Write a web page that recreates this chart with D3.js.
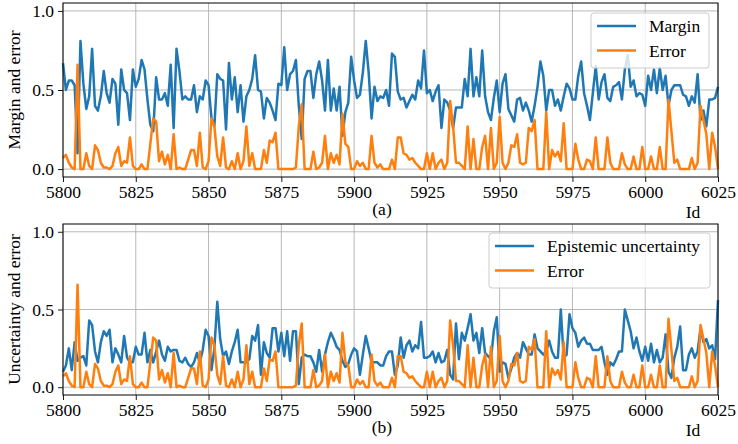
<!DOCTYPE html>
<html>
<head>
<meta charset="utf-8">
<script src="https://cdn.jsdelivr.net/npm/d3@7"></script>
<style>
  body { margin: 0; background: #fff; }
  .grid line { stroke: #b0b0b0; stroke-width: 0.9; }
  .axis path { display: none; }
  .axis line { stroke: #000; stroke-width: 0.9; }
  .frame { fill: none; stroke: #000; stroke-width: 1; }
  .series { fill: none; stroke-width: 2.5; stroke-linejoin: round; }
</style>
</head>
<body>
<div id="chart"></div>
<script>
// ids along x
var startId = 5800, endId = 6025;
var xTicks = [5800, 5825, 5850, 5875, 5900, 5925, 5950, 5975, 6000, 6025];
var yTicks = [0.0, 0.5, 1.0];

// margin (top panel, blue)
var margin_vals = [
  0.67, 0.50, 0.56, 0.56, 0.53, 0.10, 0.81, 0.54, 0.38, 0.46,
  0.76, 0.40, 0.37, 0.46, 0.62, 0.48, 0.42, 0.57, 0.54, 0.28,
  0.63, 0.50, 0.48, 0.31, 0.63, 0.52, 0.57, 0.69, 0.63, 0.44,
  0.28, 0.24, 0.58, 0.44, 0.44, 0.48, 0.40, 0.66, 0.26, 0.76,
  0.62, 0.44, 0.46, 0.44, 0.44, 0.53, 0.36, 0.46, 0.44, 0.56,
  0.53, 0.32, 0.27, 0.60, 0.57, 0.56, 0.25, 0.67, 0.44, 0.58,
  0.36, 0.53, 0.30, 0.46, 0.50, 0.57, 0.72, 0.50, 0.49, 0.32,
  0.45, 0.42, 0.37, 0.31, 0.54, 0.53, 0.77, 0.50, 0.60, 0.62,
  0.69, 0.40, 0.19, 0.57, 0.62, 0.62, 0.45, 0.60, 0.68, 0.56,
  0.37, 0.69, 0.37, 0.51, 0.37, 0.52, 0.21, 0.36, 0.42, 0.71,
  0.56, 0.45, 0.47, 0.61, 0.81, 0.61, 0.32, 0.52, 0.43, 0.46,
  0.45, 0.50, 0.40, 0.73, 0.71, 0.49, 0.44, 0.45, 0.39, 0.43,
  0.47, 0.44, 0.56, 0.51, 0.75, 0.48, 0.50, 0.43, 0.49, 0.53,
  0.26, 0.44, 0.42, 0.37, 0.26, 0.39, 0.39, 0.39, 0.57, 0.46,
  0.76, 0.46, 0.58, 0.46, 0.75, 0.46, 0.36, 0.31, 0.45, 0.56,
  0.36, 0.54, 0.60, 0.38, 0.34, 0.30, 0.44, 0.45, 0.37, 0.42,
  0.37, 0.30, 0.40, 0.52, 0.68, 0.59, 0.37, 0.50, 0.50, 0.40,
  0.44, 0.37, 0.46, 0.54, 0.51, 0.44, 0.44, 0.59, 0.68, 0.48,
  0.40, 0.31, 0.48, 0.65, 0.44, 0.55, 0.60, 0.45, 0.43, 0.52,
  0.53, 0.55, 0.44, 0.63, 0.72, 0.52, 0.56, 0.46, 0.48, 0.47,
  0.40, 0.59, 0.50, 0.63, 0.48, 0.64, 0.50, 0.59, 0.40, 0.50,
  0.53, 0.53, 0.53, 0.47, 0.46, 0.40, 0.46, 0.42, 0.60, 0.31,
  0.37, 0.27, 0.44, 0.44, 0.45, 0.52
];

// error (both panels, orange)
var error_vals = [
  0.07, 0.09, 0.04, 0.01, 0.00, 0.66, 0.00, 0.00, 0.10, 0.02,
  0.00, 0.15, 0.12, 0.04, 0.01, 0.01, 0.00, 0.02, 0.10, 0.14,
  0.02, 0.05, 0.04, 0.20, 0.02, 0.00, 0.00, 0.03, 0.00, 0.00,
  0.16, 0.32, 0.30, 0.05, 0.11, 0.03, 0.09, 0.00, 0.22, 0.00,
  0.01, 0.00, 0.00, 0.06, 0.12, 0.12, 0.02, 0.23, 0.01, 0.00,
  0.05, 0.32, 0.27, 0.08, 0.02, 0.20, 0.01, 0.00, 0.05, 0.00,
  0.10, 0.00, 0.05, 0.27, 0.02, 0.10, 0.00, 0.00, 0.00, 0.12,
  0.04, 0.18, 0.17, 0.23, 0.00, 0.00, 0.00, 0.00, 0.00, 0.00,
  0.01, 0.27, 0.41, 0.00, 0.00, 0.00, 0.11, 0.00, 0.01, 0.04,
  0.21, 0.00, 0.10, 0.04, 0.09, 0.03, 0.35, 0.16, 0.14, 0.00,
  0.00, 0.05, 0.02, 0.04, 0.00, 0.00, 0.21, 0.04, 0.01, 0.03,
  0.00, 0.00, 0.00, 0.06, 0.00, 0.20, 0.20, 0.10, 0.09, 0.06,
  0.07, 0.04, 0.02, 0.00, 0.00, 0.10, 0.00, 0.10, 0.00, 0.04,
  0.06, 0.00, 0.04, 0.43, 0.27, 0.04, 0.04, 0.02, 0.00, 0.27,
  0.00, 0.19, 0.00, 0.00, 0.14, 0.21, 0.00, 0.26, 0.00, 0.04,
  0.33, 0.04, 0.00, 0.04, 0.15, 0.14, 0.22, 0.04, 0.03, 0.04,
  0.26, 0.24, 0.31, 0.00, 0.00, 0.00, 0.36, 0.00, 0.12, 0.08,
  0.11, 0.05, 0.29, 0.00, 0.00, 0.00, 0.16, 0.06, 0.00, 0.00,
  0.06, 0.05, 0.00, 0.20, 0.00, 0.00, 0.00, 0.20, 0.04, 0.00,
  0.00, 0.00, 0.10, 0.03, 0.00, 0.00, 0.08, 0.00, 0.00, 0.14,
  0.00, 0.00, 0.08, 0.00, 0.00, 0.14, 0.00, 0.00, 0.44, 0.24,
  0.04, 0.06, 0.00, 0.00, 0.00, 0.00, 0.07, 0.00, 0.04, 0.40,
  0.31, 0.22, 0.00, 0.23, 0.14, 0.00
];

// epistemic uncertainty (bottom panel, blue)
var uncert_vals = [
  0.10, 0.14, 0.25, 0.11, 0.29, 0.17, 0.19, 0.20, 0.14, 0.43,
  0.40, 0.23, 0.16, 0.29, 0.36, 0.33, 0.37, 0.16, 0.25, 0.21,
  0.16, 0.33, 0.19, 0.16, 0.16, 0.26, 0.21, 0.21, 0.35, 0.16,
  0.24, 0.16, 0.23, 0.30, 0.21, 0.17, 0.26, 0.23, 0.24, 0.24,
  0.17, 0.16, 0.19, 0.15, 0.13, 0.16, 0.22, 0.16, 0.24, 0.37,
  0.33, 0.11, 0.25, 0.55, 0.31, 0.20, 0.23, 0.15, 0.23, 0.29,
  0.37, 0.16, 0.16, 0.16, 0.18, 0.33, 0.30, 0.40, 0.08, 0.29,
  0.22, 0.19, 0.38, 0.38, 0.23, 0.35, 0.20, 0.36, 0.17, 0.36,
  0.36, 0.02, 0.19, 0.21, 0.20, 0.20, 0.16, 0.10, 0.24, 0.10,
  0.21, 0.29, 0.35, 0.31, 0.26, 0.24, 0.17, 0.13, 0.15, 0.21,
  0.25, 0.23, 0.08, 0.21, 0.33, 0.25, 0.16, 0.16, 0.16, 0.14,
  0.14, 0.20, 0.23, 0.23, 0.08, 0.14, 0.32, 0.19, 0.27, 0.30,
  0.23, 0.27, 0.25, 0.42, 0.19, 0.19, 0.20, 0.23, 0.16, 0.22,
  0.16, 0.17, 0.24, 0.08, 0.05, 0.41, 0.18, 0.35, 0.30, 0.38,
  0.47, 0.30, 0.35, 0.22, 0.38, 0.22, 0.20, 0.18, 0.36, 0.45,
  0.10, 0.16, 0.15, 0.06, 0.12, 0.19, 0.22, 0.19, 0.29, 0.25,
  0.21, 0.21, 0.34, 0.25, 0.23, 0.21, 0.23, 0.30, 0.23, 0.19,
  0.19, 0.50, 0.19, 0.21, 0.47, 0.38, 0.35, 0.26, 0.30, 0.32,
  0.28, 0.28, 0.24, 0.24, 0.24, 0.26, 0.16, 0.08, 0.16, 0.14,
  0.18, 0.23, 0.23, 0.50, 0.43, 0.36, 0.25, 0.32, 0.23, 0.17,
  0.26, 0.17, 0.28, 0.16, 0.24, 0.16, 0.19, 0.34, 0.10, 0.06,
  0.19, 0.26, 0.39, 0.11, 0.11, 0.21, 0.25, 0.19, 0.23, 0.38,
  0.29, 0.31, 0.25, 0.27, 0.18, 0.56
];

var blue = "#1f77b4", orange = "#ff7f0e";
var serif = "'Liberation Serif'", fontSize = "17.5px";

var svg = d3.select("#chart")
  .append("svg")
  .attr("width", 738)
  .attr("height", 444);

var x = d3.scaleLinear()
  .domain([startId, endId])
  .range([63, 718]);

// put a serif label on the svg
function label(g, txt, px, py, anchor){
  return g.append("text")
    .attr("x", px).attr("y", py)
    .attr("text-anchor", anchor || "start")
    .style("font-family", serif)
    .style("font-size", fontSize)
    .style("fill", "#000")
    .text(txt);
}

// one panel: top/bottom pixel rows of the frame, labels, two series
function drawPanel(p){
  var y = d3.scaleLinear()
    .domain([-0.05, 1.05])
    .range([p.bottom, p.top]);

  var g = svg.append("g");

  // grid
  var grid = g.append("g").attr("class", "grid");
  grid.selectAll(".gx").data(xTicks).enter().append("line")
    .attr("x1", d => x(d)).attr("x2", d => x(d))
    .attr("y1", p.top).attr("y2", p.bottom);
  grid.selectAll(".gy").data(yTicks).enter().append("line")
    .attr("x1", x.range()[0]).attr("x2", x.range()[1])
    .attr("y1", d => y(d)).attr("y2", d => y(d));

  // series
  var line = d3.line()
    .x((d, i) => x(startId + i))
    .y(d => y(d));
  g.append("path").datum(p.blueVals)
    .attr("class", "series")
    .attr("stroke", blue)
    .attr("d", line);
  g.append("path").datum(error_vals)
    .attr("class", "series")
    .attr("stroke", orange)
    .attr("d", line);

  // axes
  var xa = g.append("g")
    .attr("class", "axis")
    .attr("transform", "translate(0," + p.bottom + ")")
    .call(d3.axisBottom(x).tickValues(xTicks).tickSize(5).tickPadding(4).tickFormat(d3.format("d")));
  var ya = g.append("g")
    .attr("class", "axis")
    .attr("transform", "translate(" + x.range()[0] + ",0)")
    .call(d3.axisLeft(y).tickValues(yTicks).tickSize(5).tickPadding(4).tickFormat(d3.format(".1f")));
  [xa, ya].forEach(function(a){
    a.attr("font-family", null).attr("font-size", null);
    a.selectAll("text")
      .style("font-family", serif)
      .style("font-size", fontSize)
      .attr("fill", "#000");
  });

  g.append("rect")
    .attr("class", "frame")
    .attr("x", x.range()[0])
    .attr("y", p.top)
    .attr("width", x.range()[1] - x.range()[0])
    .attr("height", p.bottom - p.top);

  // y label
  label(g, p.ylabel, 0, 0, "middle")
    .attr("transform", "translate(20," + ((p.top + p.bottom) / 2) + ") rotate(-90)");

  // panel caption and x label
  label(g, p.caption, 382, p.bottom + 38, "middle");
  label(g, "Id", 693, p.bottom + 41, "middle");

  // legend
  var lg = g.append("g").attr("transform", "translate(" + p.legend.x + "," + p.legend.y + ")");
  lg.append("rect")
    .attr("width", p.legend.w).attr("height", 55)
    .attr("rx", 3)
    .attr("fill", "#fff").attr("fill-opacity", 0.8)
    .attr("stroke", "#cccccc").attr("stroke-width", 1);
  var items = [[p.blueName, blue], ["Error", orange]];
  items.forEach(function(it, k){
    var yy = 13 + k * 24.5;
    lg.append("line")
      .attr("x1", 6).attr("x2", 45)
      .attr("y1", yy).attr("y2", yy)
      .attr("stroke", it[1]).attr("stroke-width", 2.5);
    label(lg, it[0], 58, yy + 6);
  });
}

drawPanel({top: 3, bottom: 177, blueVals: margin_vals, blueName: "Margin",
  ylabel: "Margin and error", caption: "(a)", legend: {x: 591, y: 13, w: 118}});
drawPanel({top: 224, bottom: 395, blueVals: uncert_vals, blueName: "Epistemic uncertainty",
  ylabel: "Uncertainty and error", caption: "(b)", legend: {x: 489, y: 233, w: 221}});
</script>
</body>
</html>
